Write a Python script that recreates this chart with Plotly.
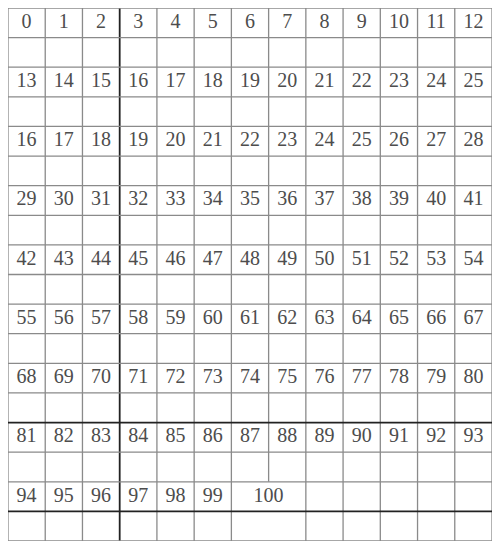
import plotly.graph_objs as go

N_COLS = 13
N_ROWS = 18

# number rows as printed (the sheet repeats 16..25 on the third line)
row_0 = list(range(0, 13))
row_1 = list(range(13, 26))
row_2 = list(range(16, 29))
row_3 = list(range(29, 42))
row_4 = list(range(42, 55))
row_5 = list(range(55, 68))
row_6 = list(range(68, 81))
row_7 = list(range(81, 94))
row_8 = list(range(94, 100))
last_label = 100

number_rows = [row_0, row_1, row_2, row_3, row_4, row_5, row_6, row_7, row_8]

xs, ys, texts = [], [], []
for i, nums in enumerate(number_rows):
    for j, n in enumerate(nums):
        xs.append(j + 0.5)
        ys.append(2 * i + 0.5)
        texts.append(str(n))
# 100 spans two cells
xs.append(7)
ys.append(16.5)
texts.append(str(last_label))

fig = go.Figure(go.Scatter(
    x=xs, y=ys, text=texts, mode='text',
    textfont=dict(family='Liberation Serif', size=20, color='#4d4d4d'),
    hoverinfo='skip',
))

thin = dict(color='#8a8a8a', width=1.3)
thick = dict(color='#222222', width=1.8)
shapes = []
for c in range(N_COLS + 1):
    style = thick if c == 3 else thin
    if c == 7:
        shapes.append(dict(type='line', x0=c, x1=c, y0=0, y1=16, line=style))
    else:
        shapes.append(dict(type='line', x0=c, x1=c, y0=0, y1=N_ROWS, line=style))
for r in range(N_ROWS + 1):
    style = thick if r in (14, 17) else thin
    shapes.append(dict(type='line', x0=0, x1=N_COLS, y0=r, y1=r, line=style))

fig.update_layout(
    autosize=True,
    margin=dict(l=0, r=0, t=0, b=0),
    plot_bgcolor='white', paper_bgcolor='white',
    shapes=shapes, showlegend=False,
)
fig.update_xaxes(range=[0, N_COLS], visible=False, fixedrange=True)
fig.update_yaxes(range=[N_ROWS, 0], visible=False, fixedrange=True)
fig.write_html('out.html', config={'responsive': True, 'displayModeBar': False})
